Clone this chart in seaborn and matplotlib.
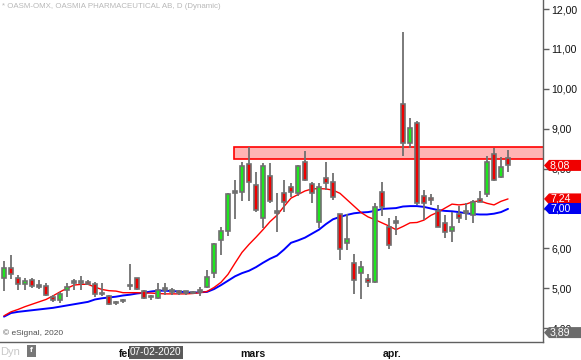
import matplotlib
matplotlib.use("Agg")
import matplotlib.pyplot as plt
import seaborn as sns
import numpy as np
import pandas as pd
from matplotlib.patches import Polygon, Rectangle
from matplotlib.transforms import IdentityTransform

# ---------------- data ----------------
opens = [5.27, 5.50, 5.25, 5.10, 5.20, 5.04, 5.06, 4.77, 4.70, 4.96, 5.14, 5.14, 5.16, 5.11, 4.85,
         4.81, 4.62, 4.67, 5.06, 5.25, 4.94, 4.77, 4.76, 4.96, 4.91, 4.93, 4.89, 4.87, 4.91, 5.03,
         5.38, 6.20, 6.44, 7.40, 7.42, 8.11, 7.59, 6.75, 7.81, 6.89, 7.40, 7.53, 7.38, 8.16, 7.61,
         6.67, 7.76, 7.67, 6.85, 6.13, 5.63, 5.39, 5.23, 5.17, 7.41, 6.54, 6.64, 9.61, 8.63, 9.14,
         7.31, 7.26, 6.94, 6.63, 6.44, 6.85, 6.89, 6.84, 7.23, 7.36, 8.36, 7.78, 8.26]
closes = [5.50, 5.35, 5.10, 5.18, 5.07, 5.04, 4.82, 4.70, 4.85, 5.04, 5.14, 5.14, 5.11, 4.86, 4.85,
          4.60, 4.62, 4.67, 5.06, 4.98, 4.75, 4.77, 4.96, 4.96, 4.91, 4.87, 4.89, 4.87, 4.91, 5.28,
          6.10, 6.44, 7.36, 7.40, 8.07, 7.67, 6.96, 8.07, 7.20, 6.89, 7.17, 7.42, 8.07, 7.71, 7.38,
          7.55, 7.63, 7.28, 5.98, 6.24, 5.21, 5.54, 5.17, 7.05, 7.05, 6.08, 6.64, 8.63, 9.01, 7.13,
          7.13, 7.21, 6.54, 6.42, 6.54, 6.75, 6.89, 7.16, 7.17, 8.17, 7.71, 8.05, 8.08]
highs = [5.68, 5.83, 5.33, 5.25, 5.27, 5.20, 5.13, 4.82, 4.91, 5.13, 5.23, 5.31, 5.20, 5.15, 5.14,
         4.83, 4.67, 4.72, 5.61, 5.27, 4.96, 4.83, 5.13, 5.13, 5.01, 4.96, 4.93, 4.94, 5.04, 5.46,
         6.13, 6.54, 7.38, 7.71, 8.17, 8.55, 7.92, 8.13, 8.13, 7.38, 7.71, 7.65, 8.09, 8.44, 7.67,
         7.63, 8.16, 7.88, 6.87, 6.85, 5.86, 5.68, 5.36, 7.13, 7.66, 6.75, 6.81, 11.42, 9.26, 9.19,
         7.46, 7.36, 7.09, 6.84, 6.92, 7.06, 7.14, 7.21, 7.44, 8.32, 8.52, 8.30, 8.47]
lows = [4.94, 5.23, 4.96, 4.96, 5.02, 4.99, 4.80, 4.66, 4.62, 4.79, 4.96, 4.96, 5.08, 4.79, 4.81,
        4.57, 4.57, 4.62, 4.96, 4.96, 4.72, 4.70, 4.73, 4.83, 4.83, 4.84, 4.83, 4.86, 4.81, 5.00,
        5.25, 5.83, 6.32, 6.73, 7.20, 7.20, 6.92, 6.52, 7.13, 6.42, 6.92, 7.30, 7.32, 7.69, 7.15,
        6.50, 7.46, 7.21, 5.71, 5.96, 4.85, 4.72, 5.04, 5.13, 6.82, 5.98, 6.34, 8.32, 8.51, 7.09,
        6.71, 7.09, 6.54, 6.25, 6.17, 6.64, 6.71, 6.64, 7.16, 7.30, 7.70, 7.77, 7.92]
ma_red = [4.31, 4.41, 4.47, 4.54, 4.60, 4.66, 4.72, 4.81, 4.91, 5.00, 5.08, 5.10, 5.10, 5.03, 4.97,
          4.94, 4.93, 4.89, 4.89, 4.89, 4.88, 4.88, 4.87, 4.86, 4.86, 4.86, 4.86, 4.87, 4.89, 4.92,
          5.02, 5.15, 5.35, 5.63, 5.90, 6.10, 6.28, 6.47, 6.67, 6.83, 7.05, 7.26, 7.35, 7.44, 7.49,
          7.50, 7.49, 7.46, 7.38, 7.22, 7.06, 6.90, 6.79, 6.72, 6.64, 6.56, 6.47, 6.55, 6.64, 6.65,
          6.71, 6.83, 6.91, 7.01, 7.11, 7.09, 7.11, 7.17, 7.19, 7.13, 7.09, 7.18, 7.24]
ma_blue = [4.29, 4.38, 4.41, 4.43, 4.45, 4.47, 4.49, 4.51, 4.54, 4.57, 4.60, 4.63, 4.66, 4.72, 4.75,
           4.77, 4.79, 4.82, 4.84, 4.87, 4.89, 4.92, 4.94, 4.94, 4.93, 4.92, 4.90, 4.89, 4.90, 4.91,
           4.98, 5.08, 5.19, 5.30, 5.38, 5.44, 5.53, 5.64, 5.74, 5.82, 5.97, 6.14, 6.20, 6.27, 6.37,
           6.47, 6.61, 6.73, 6.79, 6.84, 6.88, 6.90, 6.91, 6.94, 6.99, 7.00, 7.01, 7.05, 7.06, 7.06,
           7.04, 7.00, 6.96, 6.94, 6.93, 6.91, 6.88, 6.86, 6.85, 6.85, 6.87, 6.91, 6.99]
zone_start = 32.9
zone_low, zone_high = 8.23, 8.53
y_ticks = [4, 5, 6, 7, 8, 9, 10, 11, 12]
x_tick_pos = [17.5, 35.5, 55.5]
x_tick_labels = ["feb", "mars", "apr."]
right_labels = [("8,08", 8.08, "#f00000"), ("7,24", 7.24, "#f00000"),
                ("7,00", 7.00, "#0000f0"), ("3,89", 3.89, "#6b6b6b")]
title = "* OASM-OMX, OASMIA PHARMACEUTICAL AB, D (Dynamic)"
cursor_date = "07-02-2020"

# ---------------- style ----------------
sns.set_style("white")
plt.rcParams['font.family'] = ['Liberation Sans', 'DejaVu Sans']

W, H = 581, 360
fig = plt.figure(figsize=(W / 100, H / 100), dpi=100)
ax = fig.add_axes([0, 18 / H, 543 / W, 342 / H])
ax.set_facecolor("white")

idx = np.arange(len(opens))
o = np.array(opens); c = np.array(closes)
hi = np.array(highs); lo = np.array(lows)

# resistance zone
ax.add_patch(Rectangle((zone_start, zone_low), 80 - zone_start, zone_high - zone_low,
                       facecolor="#ffb4b4", edgecolor="#ff0000", lw=1.2, zorder=1))

# moving averages
df = pd.DataFrame({"i": idx, "red": ma_red, "blue": ma_blue})
sns.lineplot(data=df, x="i", y="blue", color="#0000ff", lw=1.4, ax=ax, zorder=3)
sns.lineplot(data=df, x="i", y="red", color="#ff0000", lw=1.0, ax=ax, zorder=3)

# candles
edge = "#707070"
cols = np.where(c > o, "#1ee61e", np.where(c < o, "#f00000", edge))
bottoms = np.minimum(o, c)
heights = np.maximum(np.abs(c - o), 0.035)
ax.vlines(idx, lo, hi, colors=edge, lw=1.3, zorder=4)
ax.bar(idx, heights, bottom=bottoms, width=0.7, color=cols, edgecolor=edge, lw=1.2, zorder=5)

ax.set_xlim(-0.571, 77.0)
ax.set_ylim(3.654, 12.226)
ax.set_xlabel(""); ax.set_ylabel("")

for s in ["top", "left"]:
    ax.spines[s].set_visible(False)
for s in ["right", "bottom"]:
    ax.spines[s].set_color("#606060")
    ax.spines[s].set_linewidth(1.0)

ax.yaxis.tick_right()
ax.set_yticks(y_ticks)
ax.set_yticklabels([f"{v},00" for v in y_ticks])
ax.tick_params(axis="y", length=4, width=1, color="#606060", pad=2, labelsize=7.6, labelcolor="#111111")
ax.set_xticks(x_tick_pos)
ax.set_xticklabels(x_tick_labels, fontweight="bold")
ax.tick_params(axis="x", length=3, width=1, color="#606060", pad=2, labelsize=7.6, labelcolor="#111111")

# texts
fig.text(2 / W, 1 - 7 / H, title, fontsize=5.7, color="#b8b8b8", va="center", ha="left")
ax.text(0.005, 1 - (333 / 342), "© eSignal, 2020", transform=ax.transAxes, fontsize=6.0,
        color="#505050", va="center", ha="left")
fig.text(0 / W, 1 - 352 / H, "Dyn", fontsize=8, color="#c8c8c8", va="center", ha="left")
fig.add_artist(Rectangle((27 / W, 1 - 357 / H), 9 / W, 12 / H, transform=fig.transFigure,
                         facecolor="#777777", edgecolor="none"))
fig.text(31.5 / W, 1 - 351 / H, "f", fontsize=6, color="white", va="center", ha="center",
         fontweight="bold")
fig.text(130 / W, 1 - 352 / H, cursor_date, fontsize=7.2, color="white", va="center", ha="left",
         bbox=dict(boxstyle="square,pad=0.15", facecolor="#5a5a5a", edgecolor="none"))

# right-side value tags
fig.canvas.draw()
for txt, val, col in right_labels:
    yd = ax.transData.transform((0, val))[1]
    pts = [(544, yd), (549, yd + 5.5), (W, yd + 5.5), (W, yd - 5.5), (549, yd - 5.5)]
    fig.add_artist(Polygon(pts, closed=True, transform=IdentityTransform(),
                           facecolor=col, edgecolor="none", zorder=5))
    fig.text(550 / W, yd / H, txt, fontsize=7.6, color="white", va="center", ha="left", zorder=6)

fig.savefig("out.png", dpi=100)
